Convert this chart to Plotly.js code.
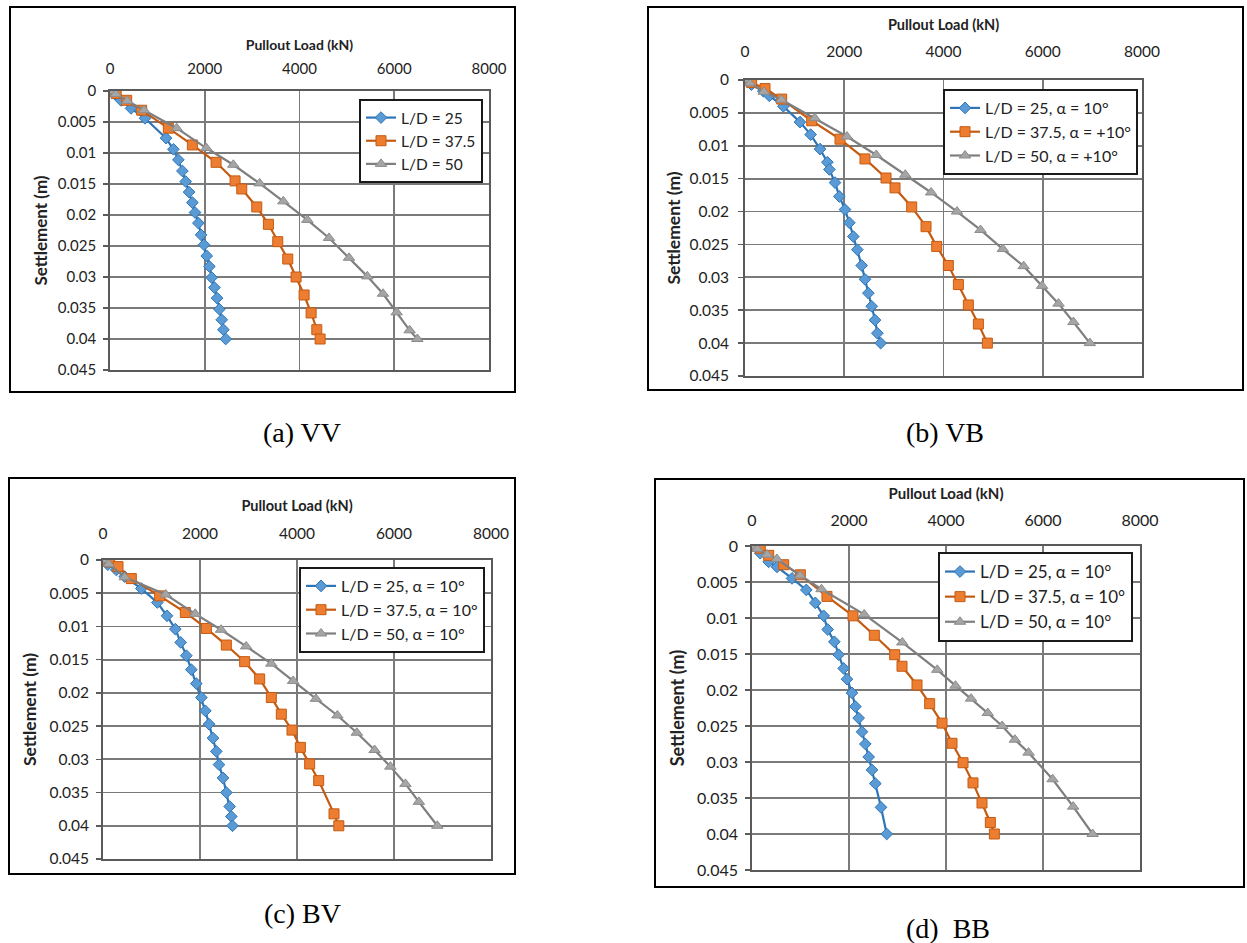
<!DOCTYPE html>
<html>
<head>
<meta charset="utf-8">
<script src="https://cdn.plot.ly/plotly-3.0.1.min.js"></script>
<style>
  html, body { margin: 0; padding: 0; background: #ffffff; }
  #chart { width: 1247px; height: 943px; }
</style>
</head>
<body>
<div id="chart"></div>
<script>
// ---------------- DATA ----------------
// Panel (a) VV
const vv_load_25 = [0, 100, 230, 444, 739, 1183, 1338, 1443, 1528, 1598, 1668, 1739, 1795, 1866, 1922, 1985, 2042, 2098, 2147, 2204, 2260, 2309, 2358, 2394, 2443];
const vv_settle_25 = [0, 0.0005, 0.0015, 0.0028, 0.0044, 0.0076, 0.0094, 0.0111, 0.0129, 0.0146, 0.0163, 0.0180, 0.0196, 0.0213, 0.0232, 0.0248, 0.0266, 0.0283, 0.0301, 0.0317, 0.0334, 0.0352, 0.0369, 0.0385, 0.0400];
const vv_load_375 = [0, 130, 352, 669, 1232, 1739, 2239, 2640, 2781, 3098, 3344, 3541, 3752, 3928, 4097, 4245, 4365, 4435];
const vv_settle_375 = [0, 0.0004, 0.0015, 0.0031, 0.0060, 0.0087, 0.0115, 0.0145, 0.0158, 0.0187, 0.0215, 0.0243, 0.0271, 0.0300, 0.0329, 0.0358, 0.0385, 0.0400];
const vv_load_50 = [0, 120, 366, 718, 1407, 2033, 2603, 3159, 3659, 4165, 4623, 5045, 5432, 5763, 6051, 6325, 6487];
const vv_settle_50 = [0, 0.0005, 0.0016, 0.0031, 0.0060, 0.0092, 0.0119, 0.0149, 0.0178, 0.0208, 0.0237, 0.0269, 0.0299, 0.0327, 0.0357, 0.0386, 0.0400];

// Panel (b) VB
const vb_load_25 = [0, 130, 369, 490, 773, 1108, 1323, 1512, 1659, 1700, 1814, 1901, 2015, 2103, 2183, 2264, 2351, 2418, 2486, 2553, 2620, 2667, 2734];
const vb_settle_25 = [0, 0.0007, 0.0017, 0.0024, 0.0040, 0.0064, 0.0083, 0.0105, 0.0125, 0.0136, 0.0156, 0.0177, 0.0197, 0.0217, 0.0238, 0.0258, 0.0282, 0.0303, 0.0324, 0.0344, 0.0365, 0.0385, 0.0400];
const vb_load_375 = [0, 134, 403, 739, 1344, 1915, 2418, 2842, 3023, 3359, 3648, 3863, 4098, 4300, 4501, 4703, 4884];
const vb_settle_375 = [0, 0.0004, 0.0013, 0.0029, 0.0062, 0.0090, 0.0120, 0.0149, 0.0164, 0.0193, 0.0223, 0.0253, 0.0282, 0.0311, 0.0342, 0.0371, 0.0400];
const vb_load_50 = [0, 100, 379, 734, 1406, 2053, 2645, 3230, 3751, 4272, 4746, 5196, 5615, 5986, 6318, 6618, 6949];
const vb_settle_50 = [0, 0.0005, 0.0018, 0.0030, 0.0058, 0.0086, 0.0114, 0.0144, 0.0171, 0.0200, 0.0228, 0.0257, 0.0283, 0.0313, 0.0340, 0.0368, 0.0400];

// Panel (c) BV
const bv_load_25 = [0, 100, 275, 447, 790, 1120, 1320, 1491, 1601, 1718, 1821, 1924, 2028, 2110, 2186, 2268, 2337, 2392, 2474, 2543, 2612, 2646, 2670];
const bv_settle_25 = [0, 0.0007, 0.0015, 0.0025, 0.0043, 0.0064, 0.0084, 0.0104, 0.0124, 0.0144, 0.0165, 0.0186, 0.0207, 0.0227, 0.0247, 0.0268, 0.0288, 0.0308, 0.0328, 0.0350, 0.0371, 0.0386, 0.0400];
const bv_load_375 = [0, 137, 309, 584, 1168, 1698, 2131, 2543, 2921, 3230, 3471, 3677, 3897, 4069, 4261, 4447, 4763, 4862];
const bv_settle_375 = [0, 0.0003, 0.0010, 0.0028, 0.0054, 0.0079, 0.0103, 0.0128, 0.0153, 0.0179, 0.0207, 0.0232, 0.0256, 0.0282, 0.0307, 0.0332, 0.0382, 0.0400];
const bv_load_50 = [0, 118, 449, 1293, 1901, 2434, 2952, 3471, 3920, 4390, 4833, 5234, 5600, 5925, 6236, 6513, 6893];
const bv_settle_50 = [0, 0.0006, 0.0026, 0.0052, 0.0081, 0.0105, 0.0130, 0.0156, 0.0182, 0.0209, 0.0234, 0.0260, 0.0286, 0.0311, 0.0337, 0.0364, 0.0400];

// Panel (d) BB
const bb_load_25 = [0, 170, 344, 515, 825, 1120, 1306, 1478, 1560, 1698, 1787, 1890, 1959, 2062, 2131, 2199, 2268, 2337, 2406, 2474, 2543, 2660, 2778];
const bb_settle_25 = [0, 0.0010, 0.0022, 0.0029, 0.0045, 0.0061, 0.0079, 0.0097, 0.0116, 0.0133, 0.0151, 0.0170, 0.0185, 0.0204, 0.0223, 0.0239, 0.0258, 0.0275, 0.0293, 0.0311, 0.0330, 0.0363, 0.0400];
const bb_load_375 = [0, 172, 344, 653, 997, 1546, 2083, 2522, 2942, 3093, 3402, 3663, 3918, 4124, 4351, 4557, 4742, 4914, 4997];
const bb_settle_375 = [0, 0.0003, 0.0013, 0.0026, 0.0040, 0.0070, 0.0097, 0.0124, 0.0151, 0.0167, 0.0193, 0.0219, 0.0246, 0.0274, 0.0301, 0.0329, 0.0357, 0.0384, 0.0400];
const bb_load_50 = [0, 112, 312, 513, 993, 1433, 2314, 3099, 3820, 4196, 4517, 4861, 5157, 5421, 5702, 6198, 6623, 7023];
const bb_settle_50 = [0, 0.0004, 0.0012, 0.0018, 0.0041, 0.0060, 0.0095, 0.0134, 0.0172, 0.0194, 0.0212, 0.0232, 0.0250, 0.0269, 0.0287, 0.0324, 0.0362, 0.0400];

// Labels
const xTitle = 'Pullout Load (kN)';
const yTitle = 'Settlement (m)';
const captions = ['(a) VV', '(b) VB', '(c) BV', '(d)  BB'];
const legendNames = [
  ['L/D = 25', 'L/D = 37.5', 'L/D = 50'],
  ['L/D = 25, α = 10°', 'L/D = 37.5, α = +10°', 'L/D = 50, α = +10°'],
  ['L/D = 25, α = 10°', 'L/D = 37.5, α = 10°', 'L/D = 50, α = 10°'],
  ['L/D = 25, α = 10°', 'L/D = 37.5, α = 10°', 'L/D = 50, α = 10°']
];
const xRange = [0, 8000];
const yRange = [0.045, 0];

// ---------------- LAYOUT GEOMETRY (pixels) ----------------
const W = 1247, H = 943;
const panels = [
  { plot: [110, 489, 91, 370],  frame: [10, 515, 7, 392],   legend: [483, 99],  cap: [302, 433], font: 15, ttl: 14, ytl: 17, legFont: 15.5, xlab: 9,  xts: 5, ylab: 4, yts: 6 },
  { plot: [745, 1142, 80, 376], frame: [648, 1243, 7, 390], legend: [1138, 89], cap: [945, 433], font: 15.5, ttl: 14.5, ytl: 17.5, legFont: 16, xlab: 15, xts: 8, ylab: 6, yts: 4 },
  { plot: [103, 491, 560, 859], frame: [9, 515, 478, 874],  legend: [485, 567], cap: [302, 913], font: 15.5, ttl: 14.5, ytl: 17.5, legFont: 16, xlab: 13, xts: 9, ylab: 4, yts: 8 },
  { plot: [752, 1140, 546, 870], frame: [655, 1244, 479, 887], legend: [1133, 552], cap: [948, 928], font: 16, ttl: 15, ytl: 18, legFont: 17, xlab: 12, xts: 6, ylab: 4, yts: 8 }
];
const px = v => v / W;
const py = v => 1 - v / H;

const dataSets = [
  [[vv_load_25, vv_settle_25], [vv_load_375, vv_settle_375], [vv_load_50, vv_settle_50]],
  [[vb_load_25, vb_settle_25], [vb_load_375, vb_settle_375], [vb_load_50, vb_settle_50]],
  [[bv_load_25, bv_settle_25], [bv_load_375, bv_settle_375], [bv_load_50, bv_settle_50]],
  [[bb_load_25, bb_settle_25], [bb_load_375, bb_settle_375], [bb_load_50, bb_settle_50]]
];

const styles = [
  { line: '#2E75B6', fill: '#5B9BD5', edge: '#2E75B6', symbol: 'diamond', size: 9 },
  { line: '#C55A11', fill: '#ED7D31', edge: '#C55A11', symbol: 'square', size: 10 },
  { line: '#7F7F7F', fill: '#A5A5A5', edge: '#8C8C8C', symbol: 'triangle-up', size: 10 }
];

const traces = [];
const layout = {
  width: W, height: H,
  margin: { l: 0, r: 0, t: 0, b: 0 },
  paper_bgcolor: '#ffffff',
  plot_bgcolor: '#ffffff',
  showlegend: true,
  shapes: [],
  annotations: []
};

panels.forEach((p, i) => {
  const n = i + 1;
  const xs = n === 1 ? '' : String(n);
  const xName = 'x' + xs, yName = 'y' + xs;
  const legName = n === 1 ? 'legend' : 'legend' + n;

  dataSets[i].forEach((d, k) => {
    const s = styles[k];
    traces.push({
      type: 'scatter', mode: 'lines+markers',
      x: d[0], y: d[1],
      xaxis: xName, yaxis: yName,
      name: legendNames[i][k],
      legend: legName,
      line: { color: s.line, width: 2.2 },
      marker: { symbol: s.symbol, size: s.size, color: s.fill, line: { color: s.edge, width: 1 } },
      hoverinfo: 'x+y'
    });
  });

  const axisCommon = {
    showgrid: true, gridcolor: '#7a7a7a', gridwidth: 1.8,
    showline: true, linecolor: '#5a5a5a', linewidth: 1.8, mirror: true,
    zeroline: false,
    tickfont: { family: 'Lato, sans-serif', size: p.font, color: '#222222' }
  };

  layout['xaxis' + xs] = Object.assign({}, axisCommon, {
    domain: [px(p.plot[0]), px(p.plot[1])],
    anchor: yName, side: 'top',
    range: xRange, tick0: 0, dtick: 2000,
    ticks: '', ticklabelstandoff: p.xlab,
    title: { text: '<b>' + xTitle + '</b>', font: { family: 'Lato, sans-serif', size: p.ttl, color: '#222222' }, standoff: p.xts }
  });
  layout['yaxis' + xs] = Object.assign({}, axisCommon, {
    domain: [py(p.plot[3]), py(p.plot[2])],
    anchor: xName,
    range: yRange, tick0: 0, dtick: 0.005,
    ticks: 'outside', ticklen: 5, tickcolor: '#5a5a5a', tickwidth: 1.5,
    ticklabelstandoff: p.ylab,
    title: { text: '<b>' + yTitle + '</b>', font: { family: 'Lato, sans-serif', size: p.ytl, color: '#222222' }, standoff: p.yts }
  });

  layout[legName] = {
    x: px(p.legend[0]), y: py(p.legend[1]),
    xanchor: 'right', yanchor: 'top',
    xref: 'paper', yref: 'paper',
    bgcolor: '#ffffff', bordercolor: '#1a1a1a', borderwidth: 2,
    font: { family: 'Lato, sans-serif', size: p.legFont, color: '#222222' },
    tracegroupgap: 0
  };

  layout.shapes.push({
    type: 'rect', xref: 'paper', yref: 'paper', layer: 'above',
    x0: px(p.frame[0]), x1: px(p.frame[1]), y0: py(p.frame[3]), y1: py(p.frame[2]),
    line: { color: '#000000', width: 2 }
  });

  layout.annotations.push({
    xref: 'paper', yref: 'paper', x: px(p.cap[0]), y: py(p.cap[1]),
    xanchor: 'center', yanchor: 'middle', showarrow: false,
    text: captions[i],
    font: { family: '"Liberation Serif", "Times New Roman", serif', size: 28, color: '#000000' }
  });
});

Plotly.newPlot('chart', traces, layout, { staticPlot: true, displayModeBar: false });
</script>
</body>
</html>
